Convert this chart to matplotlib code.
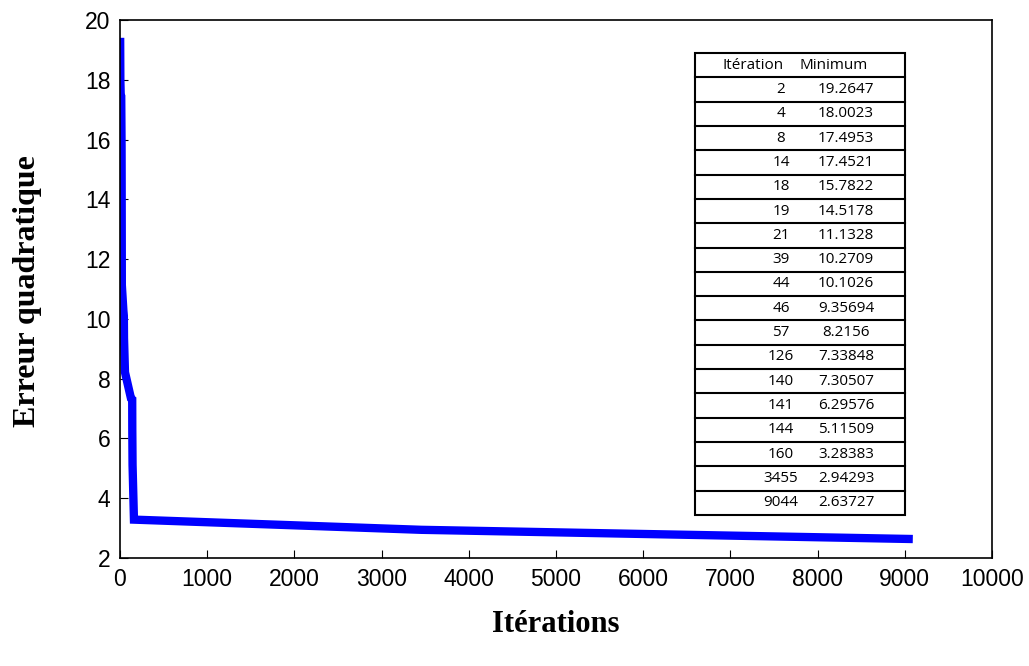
import numpy as np
import matplotlib
matplotlib.use("Agg")
import matplotlib.pyplot as plt
from matplotlib.patches import Rectangle
from matplotlib.lines import Line2D

# Data (iteration where a new minimum was found, value of the minimum)
iterations = [2, 4, 8, 14, 18, 19, 21, 39, 44, 46, 57, 126, 140, 141, 144, 160, 3455, 9044]
minimum = [19.2647, 18.0023, 17.4953, 17.4521, 15.7822, 14.5178, 11.1328, 10.2709,
           10.1026, 9.35694, 8.2156, 7.33848, 7.30507, 6.29576, 5.11509, 3.28383,
           2.94293, 2.63727]
min_labels = ["19.2647", "18.0023", "17.4953", "17.4521", "15.7822", "14.5178", "11.1328",
              "10.2709", "10.1026", "9.35694", "8.2156", "7.33848", "7.30507", "6.29576",
              "5.11509", "3.28383", "2.94293", "2.63727"]

W, H = 1029, 666
fig = plt.figure(figsize=(W / 100, H / 100), dpi=100)
ax = fig.add_axes([120 / W, 1 - 558 / H, (992 - 120) / W, (558 - 20) / H])

ax.plot(iterations, minimum, color="#0000ff", linewidth=6, solid_joinstyle="miter")

ax.set_xlim(0, 10000)
ax.set_ylim(2, 20)
ax.set_xticks(np.arange(0, 10001, 1000))
ax.set_yticks(np.arange(2, 21, 2))
ax.tick_params(direction="in", length=6, width=0.8, labelsize=16.5, pad=7)
for lab in ax.get_xticklabels() + ax.get_yticklabels():
    lab.set_family("Liberation Sans")
for s in ax.spines.values():
    s.set_linewidth(1.2)

fig.text(556 / W, 1 - 625 / H, "Itérations", ha="center", va="center",
         family="Liberation Serif", fontweight="bold", fontsize=22)
fig.text(28 / W, 1 - 291 / H, "Erreur quadratique", ha="center", va="center",
         rotation=90, family="Liberation Serif", fontweight="bold", fontsize=23)

# table drawn in figure pixels
tl, tr, tt, tb = 695, 905, 53, 515
nrows = len(iterations) + 1
rh = (tb - tt) / nrows

def fx(x):
    return x / W

def fy(y):
    return 1 - y / H

fig.patches.append(Rectangle((fx(tl), fy(tb)), fx(tr) - fx(tl), fy(tt) - fy(tb),
                             transform=fig.transFigure, fill=True, facecolor="white",
                             edgecolor="black", linewidth=1.5, zorder=5))
for i in range(1, nrows):
    y = tt + i * rh
    fig.lines.append(Line2D([fx(tl), fx(tr)], [fy(y), fy(y)], transform=fig.transFigure,
                            color="black", linewidth=1.5, zorder=6))

tfont = dict(family="Open Sans", fontsize=11, va="center", zorder=7)
fig.text(fx(753), fy(tt + rh / 2), "Itération", ha="center", **tfont)
fig.text(fx(834), fy(tt + rh / 2), "Minimum", ha="center", **tfont)
for i, (it, lab) in enumerate(zip(iterations, min_labels)):
    yc = tt + (i + 1.5) * rh
    fig.text(fx(781), fy(yc), str(it), ha="center", **tfont)
    fig.text(fx(846), fy(yc), lab, ha="center", **tfont)

fig.savefig("out.png", dpi=100)
